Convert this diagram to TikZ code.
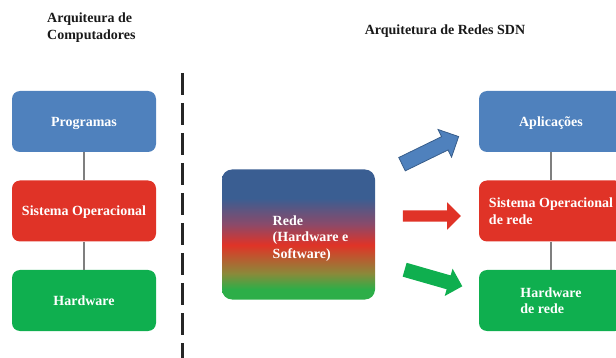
\documentclass[tikz,border=0pt]{standalone}
\usepackage{fontspec}
\setmainfont{Liberation Serif}
\usepackage{tikz}
\usetikzlibrary{calc,positioning,shapes.arrows}

\definecolor{azul}{HTML}{4F81BD}
\definecolor{azulesc}{HTML}{385D8A}
\definecolor{vermelho}{HTML}{E03327}
\definecolor{verde}{HTML}{0FAF4F}
\definecolor{cinza}{HTML}{7F7F7F}
\definecolor{redeazul}{HTML}{3A5E92}
\definecolor{roxo}{HTML}{8A4A6A}
\definecolor{oliva}{HTML}{8A8A3A}
\definecolor{redever}{HTML}{2DAE48}

\pgfdeclareverticalshading{rede}{100bp}{color(0bp)=(redever); color(25bp)=(redever); color(29bp)=(redever); color(35bp)=(oliva); color(46bp)=(vermelho); color(54bp)=(roxo); color(64bp)=(redeazul); color(100bp)=(redeazul)}

\tikzset{
  caixa/.style={rounded corners=8pt, minimum width=144pt, minimum height=61pt, text=white, align=left, inner sep=2pt, text depth=0pt},
  liga/.style={draw=cinza, line width=1.4pt},
  seta/.style={single arrow, single arrow head indent=0pt, inner xsep=0pt, minimum width=0pt},
  titulo/.style={text=black!90, align=left, inner sep=0pt},
}

\begin{document}
\begin{tikzpicture}[x=1pt,y=-1pt,font=\fontsize{14}{16.5}\selectfont\bfseries]
\useasboundingbox (0,0) rectangle (616,358);
\clip (0,0) rectangle (616,358);
% titulos
\node[titulo, anchor=north west] (T1) at (47,13) {Arquiteura de\\Computadores};
\node[titulo] (T2) at (445,31) {Arquitetura de Redes SDN};
% linha tracejada
\coordinate (L1) at (182,73);
\coordinate (L2) at (182,360);
\draw[black!85, line width=3pt, dash pattern=on 22pt off 8pt] (L1) -- (L2);
% computadores
\node[caixa, fill=azul] (P) at (84,121.5) {Programas};
\node[caixa, fill=vermelho] (SO) at (84,211) {Sistema Operacional};
\node[caixa, fill=verde] (HW) at (84,300.5) {Hardware};
\draw[liga] (P) -- (SO);
\draw[liga] (SO) -- (HW);
% rede
\node[caixa, shade, shading=rede, minimum width=153pt, minimum height=130pt, rounded corners=10pt] (R) at (298.5,234.5) {};
\node[titulo, text=white] (RT) at ($(R.center)+(12,4)$) {Rede\\(Hardware e\\Software)};
% setas
\node[seta, fill=azul, draw=azulesc, line width=0.8pt, rotate=26, minimum height=63pt, inner ysep=7pt, single arrow head extend=8pt] (S1) at (427,152) {};
\node[seta, fill=vermelho, rotate=0, minimum height=58pt, inner ysep=5.5pt, single arrow head extend=8pt] (S2) at (429,216) {};
\node[seta, fill=verde, rotate=-16, minimum height=60pt, inner ysep=7pt, single arrow head extend=7pt] (S3) at (430,277) {};
% SDN
\node[caixa, fill=azul] (AP) at (551,121.5) {Aplicações};
\node[caixa, fill=vermelho] (SOR) at (551,211) {Sistema Operacional\\de rede};
\node[caixa, fill=verde] (HWR) at (551,300.5) {Hardware\\de rede};
\draw[liga] (AP) -- (SOR);
\draw[liga] (SOR) -- (HWR);
\end{tikzpicture}
\end{document}
